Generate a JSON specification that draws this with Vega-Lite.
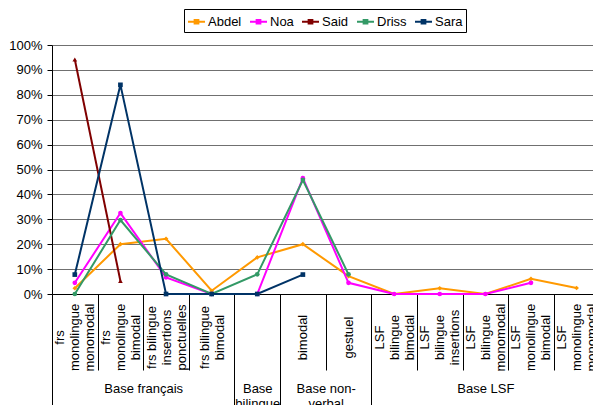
{
  "$schema": "https://vega.github.io/schema/vega-lite/v6.json",
  "width": 541,
  "height": 249,
  "autosize": {"type": "none"},
  "padding": {"left": 52, "top": 45, "right": 0, "bottom": 111},
  "datasets": {
    "scores": [
      {"c": 1, "name": "Abdel", "v": 0.023},
      {"c": 2, "name": "Abdel", "v": 0.20},
      {"c": 3, "name": "Abdel", "v": 0.222},
      {"c": 4, "name": "Abdel", "v": 0.013},
      {"c": 5, "name": "Abdel", "v": 0.147},
      {"c": 6, "name": "Abdel", "v": 0.20},
      {"c": 7, "name": "Abdel", "v": 0.072},
      {"c": 8, "name": "Abdel", "v": 0},
      {"c": 9, "name": "Abdel", "v": 0.023},
      {"c": 10, "name": "Abdel", "v": 0},
      {"c": 11, "name": "Abdel", "v": 0.061},
      {"c": 12, "name": "Abdel", "v": 0.024},
      {"c": 1, "name": "Noa", "v": 0.045},
      {"c": 2, "name": "Noa", "v": 0.325},
      {"c": 3, "name": "Noa", "v": 0.067},
      {"c": 4, "name": "Noa", "v": 0},
      {"c": 5, "name": "Noa", "v": 0},
      {"c": 6, "name": "Noa", "v": 0.465},
      {"c": 7, "name": "Noa", "v": 0.045},
      {"c": 8, "name": "Noa", "v": 0},
      {"c": 9, "name": "Noa", "v": 0},
      {"c": 10, "name": "Noa", "v": 0},
      {"c": 11, "name": "Noa", "v": 0.045},
      {"c": 1, "name": "Said", "v": 0.942},
      {"c": 2, "name": "Said", "v": 0.052},
      {"c": 1, "name": "Driss", "v": 0},
      {"c": 2, "name": "Driss", "v": 0.297},
      {"c": 3, "name": "Driss", "v": 0.079},
      {"c": 4, "name": "Driss", "v": 0},
      {"c": 5, "name": "Driss", "v": 0.079},
      {"c": 6, "name": "Driss", "v": 0.458},
      {"c": 7, "name": "Driss", "v": 0.079},
      {"c": 1, "name": "Sara", "v": 0.078},
      {"c": 2, "name": "Sara", "v": 0.84},
      {"c": 3, "name": "Sara", "v": 0},
      {"c": 4, "name": "Sara", "v": 0},
      {"c": 5, "name": "Sara", "v": 0},
      {"c": 6, "name": "Sara", "v": 0.078}
    ]
  },
  "data": {"name": "scores"},
  "layer": [
    {
      "mark": {"type": "line", "strokeWidth": 2},
      "encoding": {
        "x": {
          "field": "c", "type": "quantitative",
          "scale": {"domain": [0.5, 12.36], "nice": false, "zero": false},
          "axis": {
            "orient": "bottom", "title": null,
            "values": [1, 2, 3, 4, 5, 6, 7, 8, 9, 10, 11, 12],
            "labelExpr": "[['frs','monolingue','monomodal'],['frs','monolingue','bimodal'],['frs bilingue','insertions','ponctuelles'],['frs bilingue','bimodal'],'','bimodal','gestuel',['LSF','bilingue','bimodal'],['LSF','bilingue','insertions'],['LSF','bilingue','monomodal'],['LSF','monolingue','bimodal'],['LSF','monolingue','monomodal']][datum.value-1]",
            "labelAngle": -90, "labelAlign": "center", "labelBaseline": "middle",
            "labelOffset": {
              "condition": [
                {"test": "datum.value == 4", "value": -7.5},
                {"test": "datum.value >= 5 && datum.value <= 7", "value": 0}
              ],
              "value": -15
            },
            "labelPadding": 43, "ticks": false, "tickSize": 0, "grid": false,
            "domainColor": "black", "labelFontSize": 13, "labelLineHeight": 15,
            "labelOverlap": false, "labelBound": false, "labelFlush": false
          }
        },
        "y": {
          "field": "v", "type": "quantitative",
          "scale": {"domain": [0, 1], "nice": false},
          "axis": {
            "orient": "left", "title": null,
            "values": [0, 0.1, 0.2, 0.3, 0.4, 0.5, 0.6, 0.7, 0.8, 0.9, 1],
            "format": ".0%", "labelFontSize": 13, "tickSize": 5, "labelPadding": 5,
            "labelOverlap": false,
            "grid": true, "gridColor": "#707070", "gridOpacity": 1,
            "domainColor": "black", "tickColor": "black"
          }
        },
        "color": {
          "field": "name", "type": "nominal",
          "scale": {"domain": ["Abdel", "Noa", "Said", "Driss", "Sara"], "range": ["#FF9900", "#FF00FF", "#800000", "#339966", "#003366"]},
          "legend": {
            "orient": "none", "legendX": 132, "legendY": -36,
            "direction": "horizontal", "columns": 5, "title": null,
            "strokeColor": "black", "fillColor": "white", "padding": 3,
            "symbolType": "M-1,0H1M-0.22,-0.22H0.22V0.22H-0.22Z",
            "symbolSize": 289, "symbolStrokeWidth": 2,
            "labelFontSize": 13, "labelColor": "black", "labelOffset": 2, "columnPadding": 4
          }
        }
      }
    },
    {
      "transform": [{"filter": "datum.name == 'Abdel'"}],
      "mark": {"type": "point", "filled": true, "size": 22, "opacity": 1, "shape": "diamond"},
      "encoding": {
        "x": {"field": "c", "type": "quantitative", "axis": null},
        "y": {"field": "v", "type": "quantitative", "axis": null},
        "color": {"field": "name", "type": "nominal", "legend": null}
      }
    },
    {
      "transform": [{"filter": "datum.name == 'Noa' || datum.name == 'Driss'"}],
      "mark": {"type": "point", "filled": true, "size": 22, "opacity": 1, "shape": "circle"},
      "encoding": {
        "x": {"field": "c", "type": "quantitative", "axis": null},
        "y": {"field": "v", "type": "quantitative", "axis": null},
        "color": {"field": "name", "type": "nominal", "legend": null}
      }
    },
    {
      "transform": [{"filter": "datum.name == 'Said'"}],
      "mark": {"type": "point", "filled": true, "size": 22, "opacity": 1, "shape": "triangle-up"},
      "encoding": {
        "x": {"field": "c", "type": "quantitative", "axis": null},
        "y": {"field": "v", "type": "quantitative", "axis": null},
        "color": {"field": "name", "type": "nominal", "legend": null}
      }
    },
    {
      "transform": [{"filter": "datum.name == 'Sara'"}],
      "mark": {"type": "point", "filled": true, "size": 22, "opacity": 1, "shape": "square"},
      "encoding": {
        "x": {"field": "c", "type": "quantitative", "axis": null},
        "y": {"field": "v", "type": "quantitative", "axis": null},
        "color": {"field": "name", "type": "nominal", "legend": null}
      }
    },
    {
      "mark": {"type": "point", "opacity": 0},
      "encoding": {
        "x": {
          "field": "c", "type": "quantitative",
          "axis": {
            "orient": "bottom", "title": null,
            "values": [0.5, 1.5, 2.5, 3.5, 4.5, 5.5, 6.5, 7.5, 8.5, 9.5, 10.5, 11.5],
            "labels": false, "domain": false, "grid": false,
            "ticks": true, "tickSize": 76, "tickColor": "black"
          }
        }
      }
    },
    {
      "mark": {"type": "point", "opacity": 0},
      "encoding": {
        "x": {
          "field": "c", "type": "quantitative",
          "axis": {
            "orient": "bottom", "title": null,
            "values": [0.5, 4.5, 5.5, 7.5],
            "labels": false, "domain": false, "grid": false,
            "ticks": true, "tickSize": 115, "tickColor": "black"
          }
        }
      }
    },
    {
      "mark": {"type": "point", "opacity": 0},
      "encoding": {
        "x": {
          "field": "c", "type": "quantitative",
          "axis": {
            "orient": "bottom", "title": null,
            "values": [2.5, 5, 6.5, 10],
            "labelExpr": "datum.value == 2.5 ? 'Base français' : datum.value == 5 ? ['Base', 'bilingue'] : datum.value == 6.5 ? ['Base non-', 'verbal'] : 'Base LSF'",
            "ticks": false, "tickSize": 0, "domain": false, "grid": false,
            "labelPadding": 88, "labelBaseline": "top", "labelAlign": "center",
            "labelFontSize": 13, "labelLineHeight": 15,
            "labelOverlap": false, "labelBound": false, "labelFlush": false
          }
        }
      }
    }
  ],
  "resolve": {"axis": {"x": "independent", "y": "independent"}},
  "config": {
    "font": "Liberation Sans",
    "view": {"stroke": null},
    "axis": {"labelColor": "black", "labelFont": "Liberation Sans"},
    "legend": {"labelFont": "Liberation Sans"}
  }
}
